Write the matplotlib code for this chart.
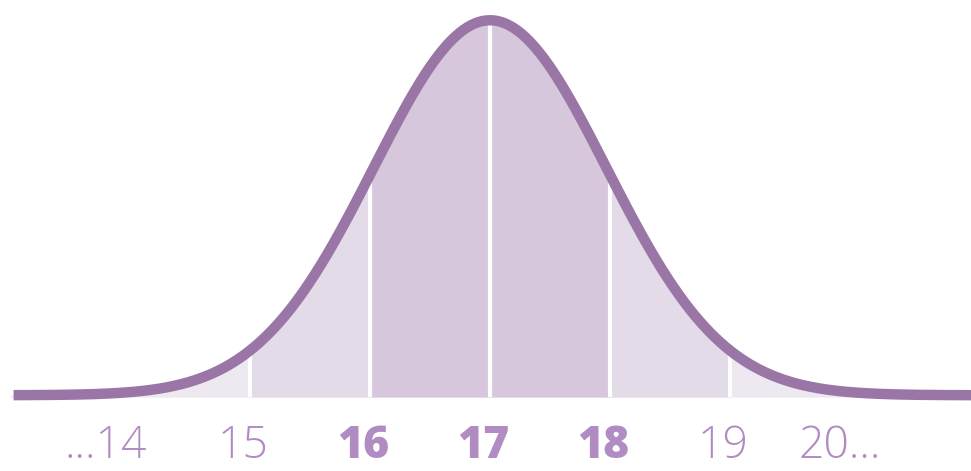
import numpy as np
import matplotlib.pyplot as plt

# bell curve
mean = 17.0
sd = 0.97
base = 0.005      # the curve sits a hair above the fill bottom

band_edges = [13.0, 15.0, 16.0, 18.0, 19.0, 21.0]
band_colors = ['#eee9f0', '#e3dbe8', '#d6c7dc', '#e3dbe8', '#eee9f0']
dividers = [15, 16, 17, 18, 19]

tick_vals = [14, 15, 16, 17, 18, 19, 20]
tick_text = ['...14', '15', '16', '17', '18', '19', '20...']
tick_bold = [False, False, True, True, True, False, False]

line_col = '#9a76a6'
label_col = '#b18cc2'


def curve(x):
    return base + np.exp(-0.5 * ((x - mean) / sd) ** 2)


fig = plt.figure(figsize=(9.71, 4.71), dpi=100)
ax = fig.add_axes([0, 0, 1, 1])

for i in range(len(band_colors)):
    xs = np.linspace(band_edges[i], band_edges[i + 1], 200)
    ax.fill_between(xs, 0, curve(xs), color=band_colors[i], lw=0)

ax.vlines(dividers, 0, curve(np.array(dividers, dtype=float)), color='white', lw=3)

xc = np.linspace(13.03, 21.2, 800)
ax.plot(xc, curve(xc), color=line_col, lw=7.5, solid_capstyle='butt')

for v, t, b in zip(tick_vals, tick_text, tick_bold):
    if t.startswith('...'):
        x, ha = v + 0.14, 'right'
    elif t.endswith('...'):
        x, ha = v - 0.43, 'left'
    else:
        x, ha = v - 0.06, 'center'
    ax.text(x, -0.163, t, ha=ha, va='baseline', fontsize=32, color=label_col,
            family='Open Sans', fontweight='heavy' if b else 'light')

ax.set_xlim(12.917, 21.008)
ax.set_ylim(-0.197, 1.059)
ax.axis('off')

fig.savefig('out.png', dpi=100)
